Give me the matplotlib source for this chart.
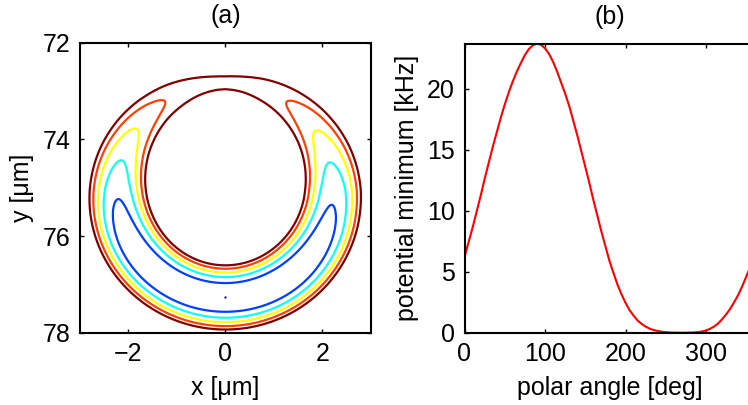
import numpy as np
import matplotlib

matplotlib.use("Agg")
import matplotlib.pyplot as plt

plt.rcParams["font.family"] = ["Liberation Sans", "DejaVu Sans"]
plt.rcParams["font.size"] = 18

# (b) potential minimum along the ring, every 5 deg
angle_deg = np.arange(0, 361, 5)
vmin_khz = [
    6.2, 7.4, 8.6, 9.9, 11.2, 12.6, 13.9, 15.2, 16.4, 17.6,
    18.7, 19.7, 20.6, 21.4, 22.1, 22.75, 23.25, 23.55, 23.7, 23.6,
    23.3, 22.85, 22.2, 21.4, 20.5, 19.6, 18.6, 17.4, 16.2, 14.9,
    13.6, 12.3, 10.9, 9.6, 8.3, 7.1, 5.9, 4.9, 3.95, 3.15,
    2.45, 1.85, 1.4, 1.0, 0.72, 0.5, 0.33, 0.22, 0.14, 0.08,
    0.04, 0.02, 0.01, 0.005, 0.0, 0.005, 0.01, 0.02, 0.05, 0.1,
    0.18, 0.32, 0.5, 0.75, 1.1, 1.5, 1.95, 2.5, 3.1, 3.8,
    4.6, 5.4, 6.2,
]

# (a) ring geometry (um) and radial stiffness (kHz/um^2) estimated from the contours
ring_center = (0.0, 75.05)
ring_radius = 2.22
stiffness = 56.0
contour_levels = [0.0, 4.94, 9.88, 14.81, 19.75, 24.69]
level_colors = ["#00008f", "#0040ff", "#10ffef", "#ffff00", "#ff4000", "#800000"]

x_ticks = [-2, 0, 2]
y_ticks = [72, 74, 76, 78]
angle_ticks = [0, 100, 200, 300]
khz_ticks = [0, 5, 10, 15, 20]

# potential landscape: minimum along the ring plus harmonic radial confinement
xs = np.linspace(-3, 3, 601)
ys = np.linspace(72, 78, 601)
X, Y = np.meshgrid(xs, ys)
theta = np.degrees(np.arctan2(ring_center[1] - Y, X - ring_center[0])) % 360
r = np.hypot(X - ring_center[0], Y - ring_center[1])
Z = np.interp(theta, angle_deg, vmin_khz) + stiffness * (r - ring_radius) ** 2

fig = plt.figure(figsize=(7.48, 4.05), dpi=100)
ax_a = fig.add_axes([80 / 748, 72.3 / 405, 290.7 / 748, 290 / 405])
ax_b = fig.add_axes([464.5 / 748, 72.3 / 405, 289.8 / 748, 289.2 / 405])

ax_a.contour(X, Y, Z, levels=contour_levels[1:], colors=level_colors[1:], linewidths=1.6)
iy, ix = np.unravel_index(np.argmin(Z), Z.shape)
ax_a.plot(X[iy, ix], Y[iy, ix], "s", ms=1.5, color=level_colors[0], mec="none")
ax_a.set_xlim(-3, 3)
ax_a.set_ylim(78, 72)
ax_a.set_xticks(x_ticks)
ax_a.set_yticks(y_ticks)
ax_a.set_xlabel("x [μm]", labelpad=7)
ax_a.set_ylabel("y [μm]", labelpad=6)
ax_a.set_title("(a)", fontsize=18, pad=14)

ax_b.plot(angle_deg, vmin_khz, color="red", lw=1.5)
ax_b.set_xlim(0, 360)
ax_b.set_ylim(0, max(vmin_khz))
ax_b.set_xticks(angle_ticks)
ax_b.set_yticks(khz_ticks)
ax_b.set_xlabel("polar angle [deg]", labelpad=7)
ax_b.set_ylabel("potential minimum [kHz]", labelpad=6)
ax_b.set_title("(b)", fontsize=18, pad=14)

for ax in (ax_a, ax_b):
    for spine in ax.spines.values():
        spine.set_linewidth(1.5)
    ax.tick_params(direction="in", length=3, width=1, top=True, right=True, pad=7,
                   labelsize=18)

fig.savefig("out.png", dpi=100)
plt.close(fig)
